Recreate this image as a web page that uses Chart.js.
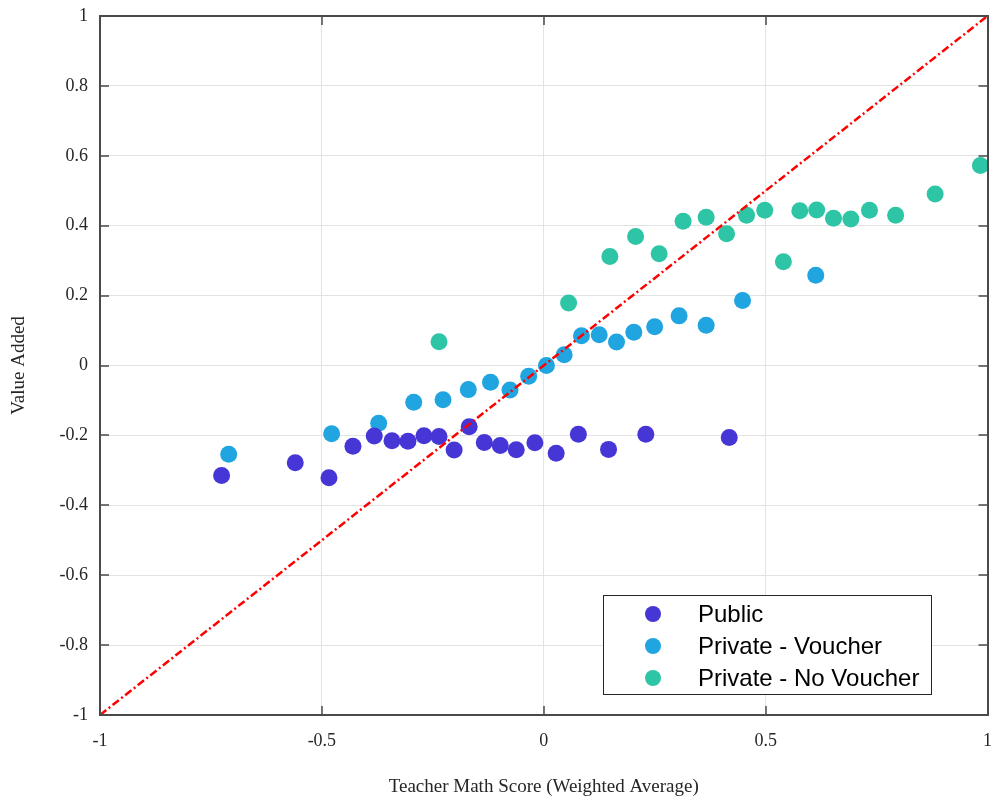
<!DOCTYPE html>
<html lang="en">
<head>
    <meta charset="UTF-8">
    <title>Value Added vs Teacher Math Score</title>
    <script src="https://cdn.jsdelivr.net/npm/chart.js"></script>
    <style>
        html, body { margin: 0; padding: 0; background: #fff; overflow: hidden; }
        #wrap { width: 996px; height: 799px; position: relative; }
        canvas { display: block; }
    </style>
</head>
<body>
    <div id="wrap"><canvas id="scoreChart"></canvas></div>

    <script>
        // Public schools
        const publicX = [-0.726, -0.560, -0.484, -0.430, -0.382, -0.342, -0.306, -0.270, -0.236, -0.202,
                         -0.168, -0.134, -0.098, -0.062, -0.020, 0.028, 0.078, 0.146, 0.230, 0.418];
        const publicY = [-0.315, -0.278, -0.321, -0.231, -0.202, -0.215, -0.217, -0.201, -0.203, -0.242,
                         -0.175, -0.220, -0.229, -0.241, -0.221, -0.251, -0.197, -0.240, -0.197, -0.206];

        // Private schools taking vouchers
        const voucherX = [-0.710, -0.478, -0.372, -0.293, -0.227, -0.170, -0.120, -0.076, -0.034, 0.006,
                          0.046, 0.085, 0.125, 0.164, 0.203, 0.250, 0.305, 0.366, 0.448, 0.613];
        const voucherY = [-0.254, -0.195, -0.165, -0.105, -0.098, -0.069, -0.048, -0.070, -0.031, 0.000,
                          0.031, 0.085, 0.088, 0.067, 0.095, 0.111, 0.142, 0.115, 0.186, 0.258];

        // Private schools without vouchers
        const noVoucherX = [-0.236, 0.056, 0.149, 0.207, 0.260, 0.314, 0.366, 0.412, 0.457, 0.498,
                            0.540, 0.577, 0.615, 0.653, 0.692, 0.734, 0.793, 0.882, 0.984];
        const noVoucherY = [0.068, 0.179, 0.312, 0.369, 0.320, 0.413, 0.424, 0.377, 0.430, 0.444,
                            0.297, 0.443, 0.445, 0.421, 0.419, 0.444, 0.430, 0.491, 0.572];

        const xTicks = [-1, -0.5, 0, 0.5, 1];
        const yTicks = [-1, -0.8, -0.6, -0.4, -0.2, 0, 0.2, 0.4, 0.6, 0.8, 1];

        const serif = "'Liberation Serif', 'DejaVu Serif', serif";
        const sans = "'Liberation Sans', Arial, sans-serif";

        function points(xs, ys) {
            return xs.map((x, i) => ({ x: x, y: ys[i] }));
        }

        // box around the plot, inward tick marks and the legend box
        const framePlugin = {
            id: 'frame',
            afterDraw(chart) {
                const ctx = chart.ctx;
                const a = chart.chartArea;
                const xs = chart.scales.x, ys = chart.scales.y;
                const len = 9;
                ctx.save();
                ctx.strokeStyle = '#4a4a4a';
                ctx.lineWidth = 1.5;
                ctx.beginPath();
                xTicks.forEach(v => {
                    const px = Math.round(xs.getPixelForValue(v));
                    ctx.moveTo(px, a.bottom); ctx.lineTo(px, a.bottom - len);
                    ctx.moveTo(px, a.top); ctx.lineTo(px, a.top + len);
                });
                yTicks.forEach(v => {
                    const py = Math.round(ys.getPixelForValue(v));
                    ctx.moveTo(a.left, py); ctx.lineTo(a.left + len, py);
                    ctx.moveTo(a.right, py); ctx.lineTo(a.right - len, py);
                });
                ctx.stroke();
                ctx.lineWidth = 2;
                ctx.strokeRect(Math.round(a.left), Math.round(a.top),
                               Math.round(a.right - a.left), Math.round(a.bottom - a.top));

                // legend
                const sets = chart.data.datasets.filter(d => d.type === 'scatter');
                const bx = 603.5, by = 595.5, bw = 328, bh = 99;
                ctx.fillStyle = '#fff';
                ctx.fillRect(bx, by, bw, bh);
                ctx.lineWidth = 1;
                ctx.strokeStyle = '#262626';
                ctx.strokeRect(bx, by, bw, bh);
                ctx.font = '24px ' + sans;
                ctx.textBaseline = 'middle';
                sets.forEach((d, i) => {
                    const cy = 614 + i * 32;
                    ctx.fillStyle = d.backgroundColor;
                    ctx.beginPath();
                    ctx.arc(653, cy, 8, 0, Math.PI * 2);
                    ctx.fill();
                    ctx.fillStyle = '#000';
                    ctx.fillText(d.label, 698, cy + 1);
                });
                ctx.restore();
            }
        };

        const ctx = document.getElementById('scoreChart').getContext('2d');
        new Chart(ctx, {
            data: {
                datasets: [
                    {
                        type: 'line',
                        label: '45 degree',
                        data: [{ x: -1, y: -1 }, { x: 1, y: 1 }],
                        borderColor: '#ff0000',
                        borderWidth: 2.5,
                        borderDash: [8, 3, 2, 3],
                        pointRadius: 0,
                        order: 0
                    },
                    {
                        type: 'scatter',
                        label: 'Public',
                        data: points(publicX, publicY),
                        backgroundColor: '#4636d6',
                        borderWidth: 0,
                        pointRadius: 8.5,
                        order: 1
                    },
                    {
                        type: 'scatter',
                        label: 'Private - Voucher',
                        data: points(voucherX, voucherY),
                        backgroundColor: '#20a5e1',
                        borderWidth: 0,
                        pointRadius: 8.5,
                        order: 1
                    },
                    {
                        type: 'scatter',
                        label: 'Private - No Voucher',
                        data: points(noVoucherX, noVoucherY),
                        backgroundColor: '#2dc5a6',
                        borderWidth: 0,
                        pointRadius: 8.5,
                        order: 1
                    }
                ]
            },
            options: {
                responsive: true,
                maintainAspectRatio: false,
                animation: false,
                layout: { padding: { top: 16, right: 0, left: 0, bottom: 0 } },
                plugins: {
                    legend: { display: false },
                    tooltip: { enabled: false }
                },
                scales: {
                    x: {
                        type: 'linear',
                        min: -1,
                        max: 1,
                        afterBuildTicks: s => { s.ticks = xTicks.map(v => ({ value: v })); },
                        afterFit: s => { s.height = 84; s.paddingLeft = 0; s.paddingRight = 0; },
                        grid: { color: '#e3e3e3', drawTicks: false },
                        border: { display: false },
                        ticks: {
                            padding: 15,
                            color: '#262626',
                            font: { family: serif, size: 18 },
                            callback: v => String(v)
                        },
                        title: {
                            display: true,
                            text: 'Teacher Math Score (Weighted Average)',
                            color: '#262626',
                            font: { family: serif, size: 19 },
                            padding: { top: 0, bottom: 1 }
                        }
                    },
                    y: {
                        type: 'linear',
                        min: -1,
                        max: 1,
                        afterBuildTicks: s => { s.ticks = yTicks.map(v => ({ value: v })); },
                        afterFit: s => { s.width = 100; s.paddingTop = 0; s.paddingBottom = 0; },
                        grid: { color: '#e3e3e3', drawTicks: false },
                        border: { display: false },
                        ticks: {
                            padding: 12,
                            color: '#262626',
                            font: { family: serif, size: 18 },
                            callback: v => String(v)
                        },
                        title: {
                            display: true,
                            text: 'Value Added',
                            color: '#262626',
                            font: { family: serif, size: 19 },
                            padding: { top: 8, bottom: 0 }
                        }
                    }
                }
            },
            plugins: [framePlugin]
        });
    </script>
</body>
</html>
